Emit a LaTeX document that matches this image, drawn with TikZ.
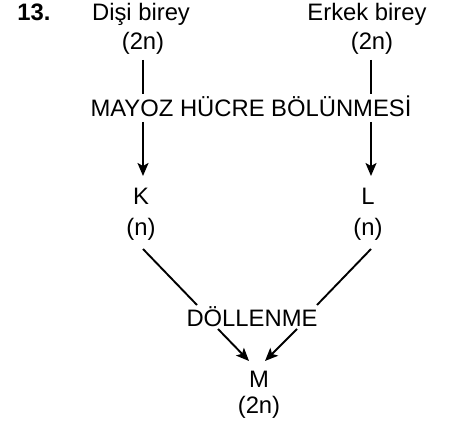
\documentclass[tikz,border=0pt]{standalone}
\usepackage{fontspec}
\setmainfont{Liberation Sans}
\usetikzlibrary{arrows.meta}
\begin{document}
\begin{tikzpicture}[x=1pt,y=-1pt,
  txt/.style={inner sep=0pt,anchor=base,font=\fontsize{23.8}{28}\selectfont},
  conn/.style={line width=1.9pt},
  arr/.style={conn,-{Stealth[length=13pt,width=11pt,inset=3pt]}}]
\useasboundingbox (0,0) rectangle (453,428);
\node[txt,font=\fontsize{23.8}{28}\selectfont\bfseries] (num) at (34,21) {13.};
\node[txt] (disi) at (141,21) {Dişi birey};
\node[txt] (disin) at (143,50) {(2n)};
\node[txt] (erkek) at (367,21) {Erkek birey};
\node[txt] (erkekn) at (372,50) {(2n)};
\node[txt] (mayoz) at (251,117) {MAYOZ HÜCRE BÖLÜNMESİ};
\node[txt] (k) at (141,204) {K};
\node[txt] (kn) at (141,235) {(n)};
\node[txt] (l) at (368,204) {L};
\node[txt] (ln) at (368,235) {(n)};
\node[txt] (dol) at (252,326) {DÖLLENME};
\node[txt] (m) at (259,387) {M};
\node[txt] (mn) at (259,413) {(2n)};
% connector end points
\coordinate (a1) at (143,60); \coordinate (a2) at (143,94);
\coordinate (a3) at (143,122); \coordinate (a4) at (143,176);
\coordinate (b1) at (371,60); \coordinate (b2) at (371,94);
\coordinate (b3) at (371,122); \coordinate (b4) at (371,176);
\coordinate (c1) at (143,249); \coordinate (c2) at (197,305);
\coordinate (d1) at (371,249); \coordinate (d2) at (317,305);
\coordinate (e1) at (218,329); \coordinate (e2) at (249,361);
\coordinate (f1) at (297,329); \coordinate (f2) at (265,361);
\draw[conn] (a1) -- (a2);
\draw[arr] (a3) -- (a4);
\draw[conn] (b1) -- (b2);
\draw[arr] (b3) -- (b4);
\draw[conn] (c1) -- (c2);
\draw[conn] (d1) -- (d2);
\draw[arr] (e1) -- (e2);
\draw[arr] (f1) -- (f2);
\end{tikzpicture}
\end{document}
